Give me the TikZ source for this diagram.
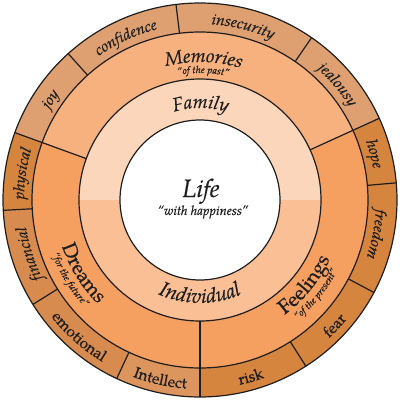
\documentclass[tikz,border=0pt]{standalone}
\usepackage{fontspec}
\setmainfont{texgyrepagella}[Extension=.otf, UprightFont=*-regular, ItalicFont=*-italic, BoldFont=*-bold, BoldItalicFont=*-bolditalic, FakeBold=0.35]
\usetikzlibrary{decorations.text}

\definecolor{outtan}{HTML}{DFA071}
\definecolor{outdark}{HTML}{D6853F}
\definecolor{outmid}{HTML}{D78B4E}
\definecolor{outlight}{HTML}{DC955C}
\definecolor{memcol}{HTML}{F6B17F}
\definecolor{dreamcol}{HTML}{F5A061}
\definecolor{famcol}{HTML}{FCD6BA}
\definecolor{indcol}{HTML}{FBBF96}
\definecolor{inkcol}{HTML}{1E1E1E}

\tikzset{ringline/.style={draw=inkcol, line width=1.2pt}}

\newcommand{\ringsector}[5]{%
  \fill[#5] (#1:#3) arc[start angle=#1,end angle=#2,radius=#3] -- (#2:#4) arc[start angle=#2,end angle=#1,radius=#4] -- cycle;}
\newcommand{\cwlabel}[5]{%
  \path[decorate,decoration={text along path,text align=center,text color=inkcol,text={|#4|#5}}] (#1+#3:#2) arc[start angle=#1+#3,end angle=#1-#3,radius=#2];}
\newcommand{\ccwlabel}[5]{%
  \path[decorate,decoration={text along path,text align=center,text color=inkcol,text={|#4|#5}}] (#1-#3:#2) arc[start angle=#1-#3,end angle=#1+#3,radius=#2];}
\newcommand{\olabit}{\itshape\fontsize{15.5}{17}\selectfont}
\newcommand{\olabup}{\upshape\fontsize{15.5}{17}\selectfont}
\newcommand{\midit}{\itshape\fontsize{19}{21}\selectfont}
\newcommand{\indit}{\itshape\fontsize{20.5}{22}\selectfont}
\newcommand{\midup}{\upshape\fontsize{20}{22}\selectfont}
\newcommand{\subit}{\itshape\fontsize{10}{12}\selectfont}

\begin{document}
\begin{tikzpicture}
\useasboundingbox (-200pt,-200pt) rectangle (200pt,200pt);
% outer ring
\ringsector{5}{24.5}{168pt}{197pt}{outdark}
\ringsector{24.5}{55.5}{168pt}{197pt}{outtan}
\ringsector{55.5}{97}{168pt}{197pt}{outtan}
\ringsector{97}{132}{168pt}{197pt}{outtan}
\ringsector{132}{160}{168pt}{197pt}{outtan}
\ringsector{160}{183}{168pt}{197pt}{outdark}
\ringsector{183}{212}{168pt}{197pt}{outmid}
\ringsector{212}{245}{168pt}{197pt}{outmid}
\ringsector{245}{270}{168pt}{197pt}{outlight}
\ringsector{270}{302.5}{168pt}{197pt}{outdark}
\ringsector{302.5}{332}{168pt}{197pt}{outdark}
\ringsector{332}{365}{168pt}{197pt}{outdark}
% middle ring
\ringsector{24.5}{160}{121pt}{168pt}{memcol}
\ringsector{160}{270}{121pt}{168pt}{dreamcol}
\ringsector{270}{384.5}{121pt}{168pt}{dreamcol}
% inner ring
\ringsector{0}{180}{80pt}{121pt}{famcol}
\ringsector{180}{360}{80pt}{121pt}{indcol}
\fill[white] (0,0) circle[radius=80pt];
% lines
\foreach \a in {5,24.5,55.5,97,132,160,183,212,245,270,302.5,332}
  \draw[ringline] (\a:168pt) -- (\a:197pt);
\foreach \a in {24.5,160,270}
  \draw[ringline] (\a:121pt) -- (\a:168pt);
\draw[ringline] (0,0) circle[radius=197pt];
\draw[ringline] (0,0) circle[radius=168pt];
\draw[ringline] (0,0) circle[radius=121pt];
\draw[ringline] (0,0) circle[radius=80pt];
% outer labels
\cwlabel{14.75}{176pt}{30}{\olabit}{hope}
\cwlabel{40}{176pt}{30}{\olabit}{jealousy}
\cwlabel{76}{176pt}{30}{\olabit}{insecurity}
\cwlabel{114.5}{176pt}{30}{\olabit}{confidence}
\cwlabel{146}{176pt}{30}{\olabit}{joy}
\cwlabel{171.5}{176pt}{30}{\olabit}{physical}
\cwlabel{197.5}{176pt}{30}{\olabit}{financial}
\cwlabel{-11}{176pt}{30}{\olabit}{freedom}
\ccwlabel{228.5}{189pt}{30}{\olabup}{emotional}
\ccwlabel{257.5}{189pt}{30}{\olabup}{Intellect}
\ccwlabel{286}{189pt}{30}{\olabup}{risk}
\ccwlabel{317}{189pt}{30}{\olabup}{fear}
% middle labels
\cwlabel{88.5}{138pt}{40}{\midit}{Memories}
\cwlabel{88.5}{127pt}{40}{\subit}{“of the past”}
\ccwlabel{212}{145.5pt}{40}{\midup}{Dreams}
\ccwlabel{211.5}{157.5pt}{40}{\subit}{“for the future”}
\ccwlabel{-39}{142.5pt}{40}{\midup}{Feelings}
\ccwlabel{-39}{154.5pt}{40}{\subit}{“of the present”}
% inner labels
\cwlabel{89.5}{92pt}{50}{\midit}{Family}
\ccwlabel{270}{103pt}{50}{\indit}{Individual}
% centre
\node[anchor=base, text=inkcol, font=\itshape\fontsize{25}{28}\selectfont, inner sep=0pt] (life) at (1pt,3pt) {Life};
\node[anchor=base, text=inkcol, font=\itshape\fontsize{13}{15}\selectfont, inner sep=0pt] (happy) at (3pt,-15pt) {“with happiness”};
\end{tikzpicture}
\end{document}
